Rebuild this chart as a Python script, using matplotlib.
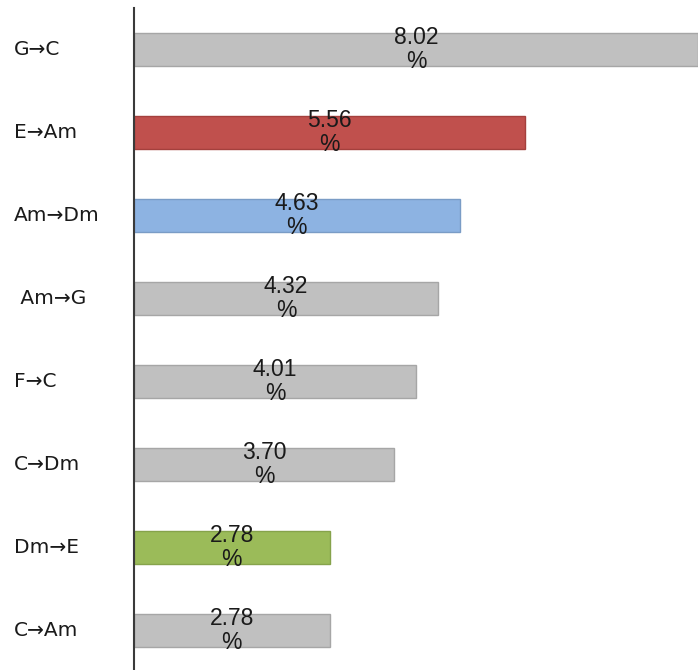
import matplotlib

matplotlib.use("Agg")
import matplotlib.pyplot as plt
from matplotlib.transforms import blended_transform_factory

plt.rcParams["font.family"] = ["Liberation Sans", "DejaVu Sans"]

# chord transitions, top to bottom, with share in percent
transitions = ["G→C", "E→Am", "Am→Dm", " Am→G", "F→C", "C→Dm", "Dm→E", "C→Am"]
shares = [8.02, 5.56, 4.63, 4.32, 4.01, 3.70, 2.78, 2.78]
fills = ["#C0C0C0", "#C0504D", "#8DB3E2", "#C0C0C0", "#C0C0C0", "#C0C0C0", "#9BBB59", "#C0C0C0"]
edges = ["#A6A6A6", "#A4403D", "#7A9CC6", "#A6A6A6", "#A6A6A6", "#A6A6A6", "#86A34B", "#A6A6A6"]

fig = plt.figure(figsize=(6.98, 6.70), dpi=100)
ax = fig.add_axes([134 / 698, 0.0, 1 - 134 / 698, 1 - 8 / 670])

pos = list(range(len(transitions)))
ax.barh(pos, shares, height=0.4, color=fills, edgecolor=edges, linewidth=1.0)

for y, v in zip(pos, shares):
    ax.text(v / 2, y, f"{v:.2f}\n%", ha="center", va="center", fontsize=16.5,
            color="#1a1a1a", linespacing=1.1)

# row labels sit at a fixed offset from the figure's left edge
lab_tr = blended_transform_factory(fig.transFigure, ax.transData)
for y, name in zip(pos, transitions):
    ax.text(14 / 698, y, name, transform=lab_tr, ha="left", va="center",
            fontsize=14.5, color="#1a1a1a", family=["DejaVu Sans"])

ax.set_xlim(0, shares[0])
ax.set_ylim(7.476, -0.5)
ax.set_xticks([])
ax.set_yticks([])
for side in ("top", "right", "bottom"):
    ax.spines[side].set_visible(False)
ax.spines["left"].set_color("#3a3a3a")
ax.spines["left"].set_linewidth(1.5)

fig.savefig("out.png", dpi=100)
